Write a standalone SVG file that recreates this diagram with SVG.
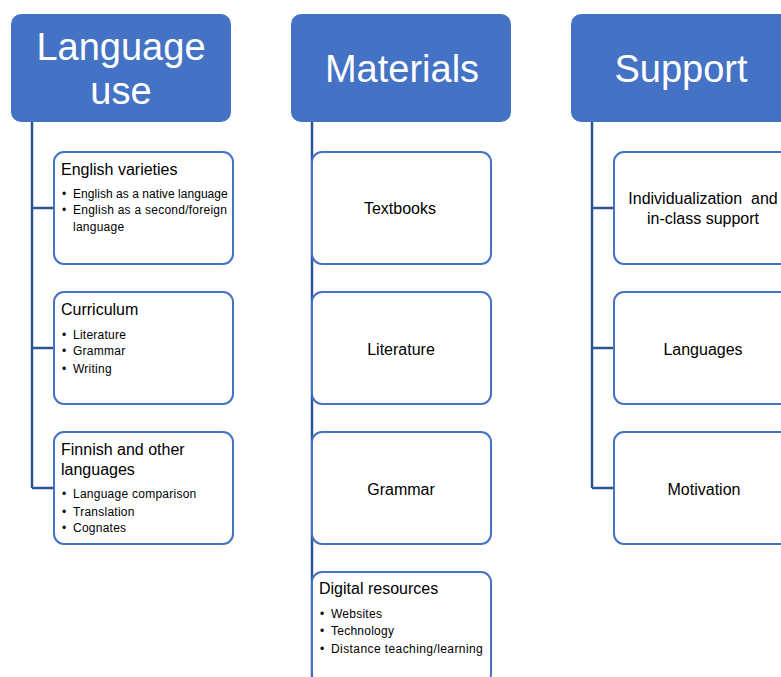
<svg xmlns="http://www.w3.org/2000/svg" width="781" height="677" viewBox="0 0 781 677">
  <style>
    .head rect { fill: #4472C4; }
    .head text { fill: #ffffff; font-family: "Liberation Sans", Arial, sans-serif; font-size: 38px; text-anchor: middle; }
    .card rect { fill: #ffffff; stroke: #4472C4; stroke-width: 2; }
    .title { font-family: "Liberation Sans", Arial, sans-serif; font-size: 16px; fill: #000; }
    .item { font-family: "Liberation Sans", Arial, sans-serif; font-size: 12px; letter-spacing: 0.25px; fill: #000; }
    .center { font-family: "Liberation Sans", Arial, sans-serif; font-size: 16px; fill: #000; text-anchor: middle; }
    .links path { fill: none; stroke: #2F5597; stroke-width: 2.5; }
  </style>
  <rect width="781" height="677" fill="#ffffff"/>

  <!-- connectors -->
  <g id="connectors" class="links">
    <path d="M32 122 V488 M32 208 H54 M32 348 H54 M32 488 H54"/>
    <path d="M312 122 V677"/>
    <path d="M592 122 V488 M592 208 H614 M592 348 H614 M592 488 H614"/>
  </g>

  <!-- column headers -->
  <g id="language-use" class="head">
    <rect x="11" y="14" width="220" height="108" rx="10"/>
    <text x="121" y="60" font-size="36.5">Language</text>
    <text x="121" y="104" font-size="36.5">use</text>
  </g>
  <g id="materials" class="head">
    <rect x="291" y="14" width="220" height="108" rx="10"/>
    <text x="402" y="82">Materials</text>
  </g>
  <g id="support" class="head">
    <rect x="571" y="14" width="220" height="108" rx="10"/>
    <text x="681" y="82">Support</text>
  </g>

  <!-- Language use cards -->
  <g id="english-varieties" class="card">
    <rect x="54" y="152" width="179" height="112" rx="10"/>
    <text class="title" x="61" y="175">English varieties</text>
    <text class="item" x="62" y="198">• <tspan x="73" textLength="155">English as a native language</tspan></text>
    <text class="item" x="62" y="214">• <tspan x="73">English as a second/foreign</tspan></text>
    <text class="item" x="73" y="231">language</text>
  </g>
  <g id="curriculum" class="card">
    <rect x="54" y="292" width="179" height="112" rx="10"/>
    <text class="title" x="61" y="315">Curriculum</text>
    <text class="item" x="62" y="339">• <tspan x="73">Literature</tspan></text>
    <text class="item" x="62" y="355">• <tspan x="73">Grammar</tspan></text>
    <text class="item" x="62" y="373">• <tspan x="73">Writing</tspan></text>
  </g>
  <g id="finnish" class="card">
    <rect x="54" y="432" width="179" height="112" rx="10"/>
    <text class="title" x="61" y="455">Finnish and other</text>
    <text class="title" x="61" y="475">languages</text>
    <text class="item" x="62" y="498">• <tspan x="73">Language comparison</tspan></text>
    <text class="item" x="62" y="516">• <tspan x="73">Translation</tspan></text>
    <text class="item" x="62" y="532">• <tspan x="73">Cognates</tspan></text>
  </g>

  <!-- Materials cards -->
  <g id="textbooks" class="card">
    <rect x="312" y="152" width="179" height="112" rx="10"/>
    <text class="center" x="400" y="214">Textbooks</text>
  </g>
  <g id="literature" class="card">
    <rect x="312" y="292" width="179" height="112" rx="10"/>
    <text class="center" x="401" y="355">Literature</text>
  </g>
  <g id="grammar" class="card">
    <rect x="312" y="432" width="179" height="112" rx="10"/>
    <text class="center" x="401" y="495">Grammar</text>
  </g>
  <g id="digital-resources" class="card">
    <rect x="312" y="572" width="179" height="112" rx="10"/>
    <text class="title" x="319" y="594">Digital resources</text>
    <text class="item" x="320" y="618">• <tspan x="331">Websites</tspan></text>
    <text class="item" x="320" y="635">• <tspan x="331">Technology</tspan></text>
    <text class="item" x="320" y="653">• <tspan x="331" textLength="152">Distance teaching/learning</tspan></text>
  </g>

  <!-- Support cards -->
  <g id="individualization" class="card">
    <rect x="614" y="152" width="179" height="112" rx="10"/>
    <text class="center" x="703" y="204" xml:space="preserve">Individualization  and</text>
    <text class="center" x="703" y="224">in-class support</text>
  </g>
  <g id="languages" class="card">
    <rect x="614" y="292" width="179" height="112" rx="10"/>
    <text class="center" x="703" y="355">Languages</text>
  </g>
  <g id="motivation" class="card">
    <rect x="614" y="432" width="179" height="112" rx="10"/>
    <text class="center" x="704" y="495">Motivation</text>
  </g>
</svg>
